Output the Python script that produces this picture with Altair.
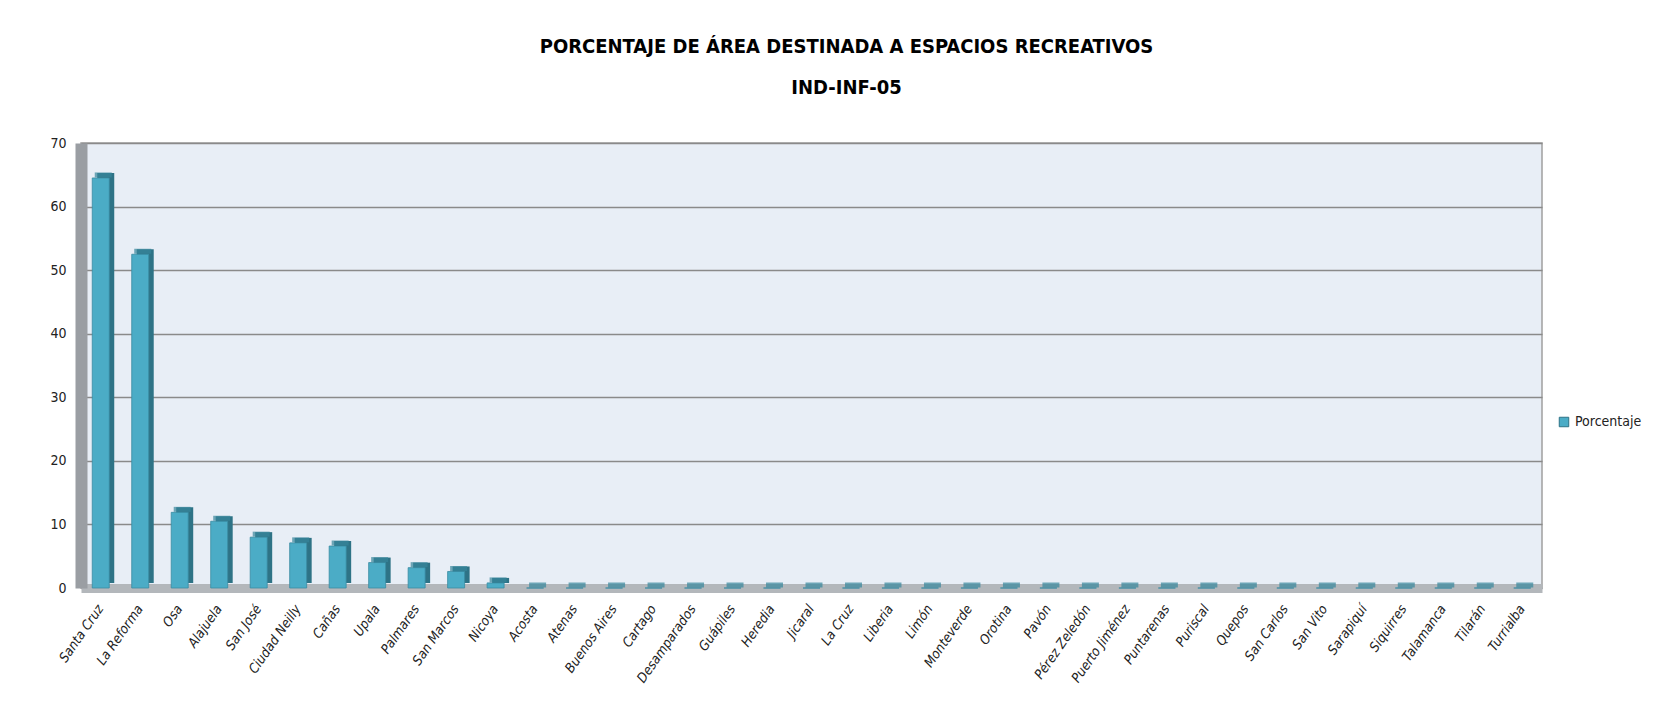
import altair as alt
import pandas as pd

categorias = ["Santa Cruz", "La Reforma", "Osa", "Alajuela", "San José", "Ciudad Neilly",
              "Cañas", "Upala", "Palmares", "San Marcos", "Nicoya", "Acosta", "Atenas",
              "Buenos Aires", "Cartago", "Desamparados", "Guápiles", "Heredia", "Jicaral",
              "La Cruz", "Liberia", "Limón", "Monteverde", "Orotina", "Pavón",
              "Pérez Zeledón", "Puerto Jiménez", "Puntarenas", "Puriscal", "Quepos",
              "San Carlos", "San Vito", "Sarapiquí", "Siquirres", "Talamanca", "Tilarán",
              "Turrialba"]
porcentaje = [64.5, 52.5, 11.9, 10.5, 8.0, 7.1, 6.6, 4.0, 3.2, 2.6, 0.8] + [0.0] * 26
serie = ["Porcentaje"] * len(categorias)
y_ticks = [0, 10, 20, 30, 40, 50, 60, 70]

df = pd.DataFrame({"municipio": categorias, "valor": porcentaje, "serie": serie})

FONT = "DejaVu Sans Condensed, Liberation Sans Narrow, sans-serif"

x_enc = alt.X("municipio:N", sort=None, title=None,
              scale=alt.Scale(paddingInner=0.58, paddingOuter=0.29),
              axis=alt.Axis(labelAngle=-55, labelFontStyle="italic", labelFontSize=13.5,
                            labelColor="#222222", labelFont=FONT, ticks=False,
                            labelPadding=18, domainColor="#B3B7BB", domainWidth=9))
y_enc = alt.Y("valor:Q", title=None,
              scale=alt.Scale(domain=[0, 70], nice=False),
              axis=alt.Axis(values=y_ticks, labelFontSize=14, labelColor="#222222",
                            labelFont=FONT, ticks=False, labelPadding=15,
                            domainColor="#9A9EA3", domainWidth=12,
                            gridColor="#8A8A8A", gridWidth=1.5))

base = alt.Chart(df)

side = base.mark_bar(size=17, color="#2E7386", xOffset=5, yOffset=-5).encode(
    x=x_enc, y=y_enc)

front = base.mark_bar(size=17, stroke="#3A8CA2", strokeWidth=0.8).encode(
    x=x_enc, y=y_enc,
    color=alt.Color("serie:N", scale=alt.Scale(range=["#4BACC6"]),
                    legend=alt.Legend(title=None, orient="none", legendX=1476, legendY=272,
                                      symbolType="square", symbolSize=90,
                                      symbolStrokeColor="#2E7386", symbolStrokeWidth=1,
                                      labelFontSize=14, labelFont=FONT,
                                      labelColor="#222222")))

top = base.mark_tick(size=17, thickness=5, color="#37869B", xOffset=2.5, yOffset=-3,
                     orient="horizontal").encode(x=x_enc, y=y_enc)

chart = alt.layer(side, front, top).properties(
    width=1461, height=445,
    padding={"left": 73, "top": 135, "right": 125, "bottom": 121},
    autosize=alt.AutoSizeParams(type="none"),
    title=alt.TitleParams(
        text=["PORCENTAJE DE ÁREA DESTINADA A ESPACIOS RECREATIVOS", "IND-INF-05"],
        fontSize=20, fontWeight="bold", font=FONT, color="#000000",
        anchor="middle", dx=35, offset=38, lineHeight=41),
).configure(background="#FFFFFF"
).configure_view(fill="#E8EEF6", stroke="#A0A0A0", strokeWidth=1.5)

chart.save("out.html", embed_options={"renderer": "svg", "actions": False})
